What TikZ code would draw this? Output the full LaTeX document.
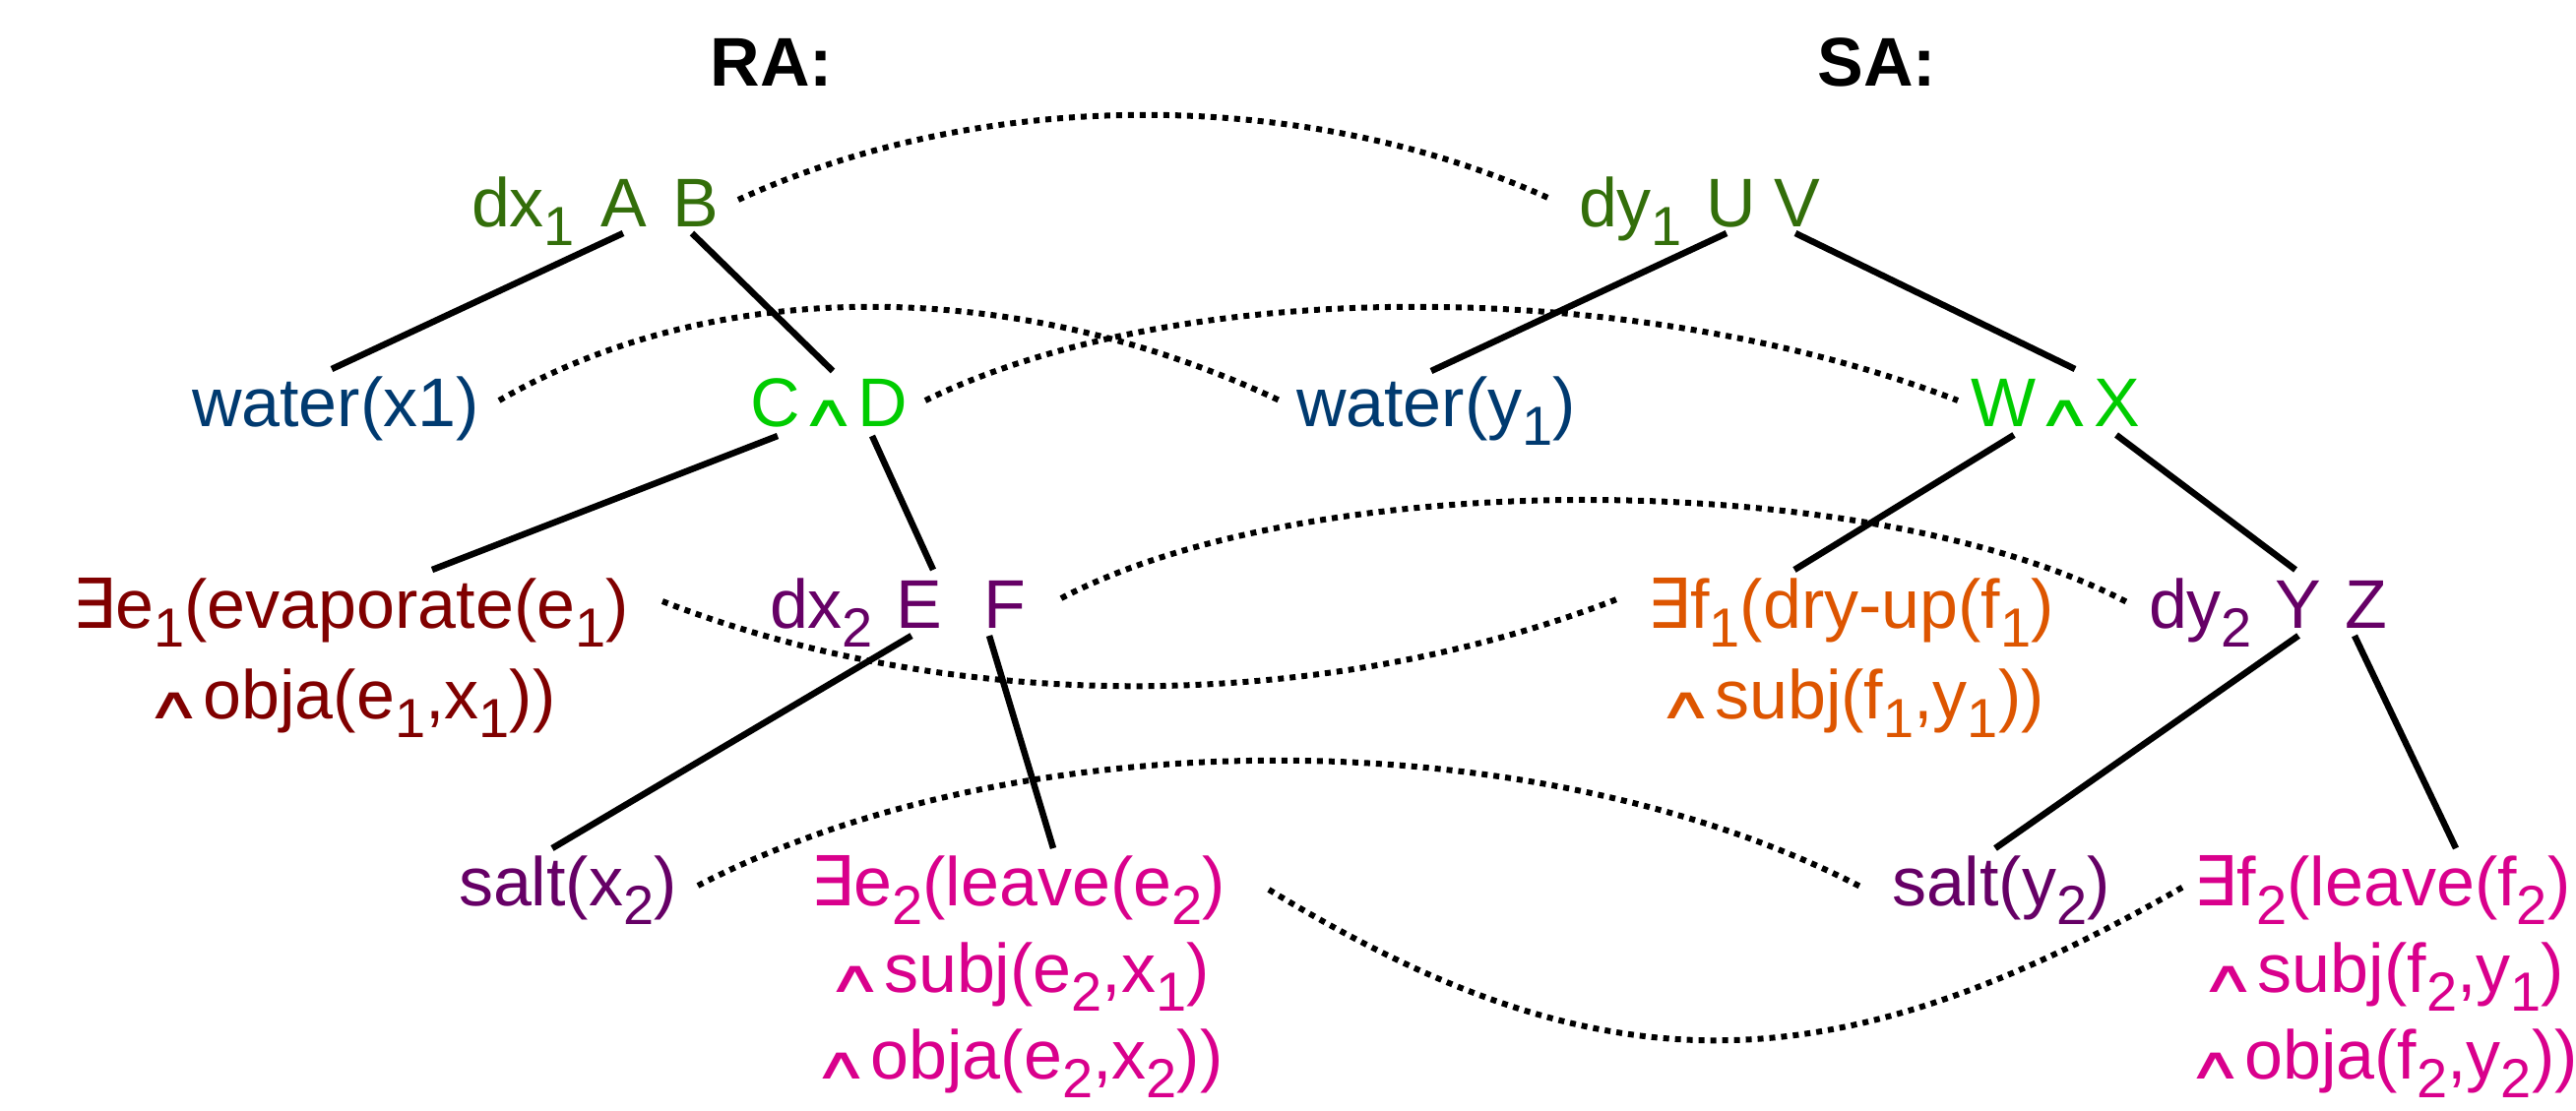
\documentclass[tikz,border=0pt]{standalone}
\usepackage{fontspec}
\usepackage{graphicx}
\setmainfont{Liberation Sans}
\newfontfamily\djvfont{DejaVu Sans}
\definecolor{cgreen}{RGB}{51,110,10}
\definecolor{cblue}{RGB}{0,58,112}
\definecolor{clime}{RGB}{0,204,0}
\definecolor{cred}{RGB}{128,0,0}
\definecolor{cpurple}{RGB}{102,0,102}
\definecolor{cmag}{RGB}{217,0,140}
\definecolor{corange}{RGB}{221,85,0}
\newcommand\sbs[1]{\raisebox{-19pt}{\fontsize{56}{56}\selectfont #1}}
\newcommand\exi{{\djvfont ∃}}
\newcommand\wedgeand{\scalebox{1.15}[0.65]{\djvfont ∧}}
\tikzset{
  lbl/.style={inner sep=0pt, outer sep=0pt, anchor=base west, font=\fontsize{70}{92}\selectfont},
  mlbl/.style={lbl, anchor=base, align=center},
  mlblt/.style={mlbl, font=\fontsize{70}{88}\selectfont},
  ttl/.style={inner sep=0pt, outer sep=0pt, anchor=base, font=\fontsize{70}{84}\selectfont\bfseries},
  tree/.style={line width=6.5pt, black},
  link/.style={line width=6pt, black, dash pattern=on 6pt off 6pt}
}
\begin{document}
\begin{tikzpicture}[x=1pt,y=-1pt]
\fill[white] (0,0) rectangle (2617,1128);
\useasboundingbox (0,0) rectangle (2617,1128);
% titles
\node[ttl] (ra) at (784,87) {RA:};
\node[ttl] (sa) at (1907,87) {SA:};
% level 1
\node[lbl, text=cgreen] (dx1) at (479,230) {dx\sbs{1}};
\node[lbl, text=cgreen] (A) at (610,230) {A};
\node[lbl, text=cgreen] (B) at (683,230) {B};
\node[lbl, text=cgreen] (dy1) at (1604,230) {dy\sbs{1}};
\node[lbl, text=cgreen] (U) at (1733,230) {U};
\node[lbl, text=cgreen] (V) at (1802,230) {V};
% level 2
\node[lbl, text=cblue] (wx1) at (195,433) {water(x1)};
\node[lbl, text=clime] (cd) at (762,433) {C\wedgeand D};
\node[lbl, text=cblue] (wy1) at (1317,433) {water(y\sbs{1})};
\node[lbl, text=clime] (wx) at (2002,433) {W\wedgeand X};
% level 3 (multi-line nodes: base = baseline of last line)
\node[mlbl, text=cred] (e1) at (356,730) {\exi e\sbs{1}(evaporate(e\sbs{1})\\\wedgeand obja(e\sbs{1},x\sbs{1}))};
\node[lbl, text=cpurple] (dx2) at (782,638) {dx\sbs{2}};
\node[lbl, text=cpurple] (E) at (910,638) {E};
\node[lbl, text=cpurple] (F) at (999,638) {F};
\node[mlbl, text=corange] (f1) at (1880,730) {\exi f\sbs{1}(dry-up(f\sbs{1})\\\wedgeand subj(f\sbs{1},y\sbs{1}))};
\node[lbl, text=cpurple] (dy2) at (2183,638) {dy\sbs{2}};
\node[lbl, text=cpurple] (Y) at (2311,638) {Y};
\node[lbl, text=cpurple] (Z) at (2382,638) {Z};
% level 4
\node[lbl, text=cpurple] (sx2) at (466,920) {salt(x\sbs{2})};
\node[mlblt, text=cmag] (e2) at (1034,1096) {\exi e\sbs{2}(leave(e\sbs{2})\\\wedgeand subj(e\sbs{2},x\sbs{1})\\\wedgeand obja(e\sbs{2},x\sbs{2}))};
\node[lbl, text=cpurple] (sy2) at (1922,920) {salt(y\sbs{2})};
\node[mlblt, text=cmag] (f2) at (2420,1096) {\exi f\sbs{2}(leave(f\sbs{2})\\\wedgeand subj(f\sbs{2},y\sbs{1})\\\wedgeand obja(f\sbs{2},y\sbs{2}))};
% tree edges
\draw[tree] ([shift={(23,7)}]A.base west) -- ([shift={(142,-58)}]wx1.base west);
\draw[tree] ([shift={(20,7)}]B.base west) -- ([shift={(84,-56)}]cd.base west);
\draw[tree] ([shift={(21,7)}]U.base west) -- ([shift={(137,-56)}]wy1.base west);
\draw[tree] ([shift={(22,7)}]V.base west) -- ([shift={(106,-58)}]wx.base west);
\draw[tree] ([shift={(28,10)}]cd.base west) -- ([shift={(83,-151)}]e1.base);
\draw[tree] ([shift={(124,10)}]cd.base west) -- ([shift={(38,-59)}]E.base west);
\draw[tree] ([shift={(44,9)}]wx.base west) -- ([shift={(-57,-151)}]f1.base);
\draw[tree] ([shift={(148,9)}]wx.base west) -- ([shift={(21,-59)}]Y.base west);
\draw[tree] ([shift={(16,8)}]E.base west) -- ([shift={(95,-58)}]sx2.base west);
\draw[tree] ([shift={(6,8)}]F.base west) -- ([shift={(36,-234)}]e2.base);
\draw[tree] ([shift={(24,8)}]Y.base west) -- ([shift={(105,-58)}]sy2.base west);
\draw[tree] ([shift={(10,8)}]Z.base west) -- ([shift={(75,-234)}]f2.base);
% correspondence links
\draw[link] ([shift={(67,-27)}]B.base west) .. controls +(250,-115) and +(-250,-115) .. ([shift={(-27,-27)}]dy1.base west);
\draw[link] ([shift={(312,-26)}]wx1.base west) .. controls +(220,-127) and +(-270,-127) .. ([shift={(-17,-26)}]wy1.base west);
\draw[link] ([shift={(178,-26)}]cd.base west) .. controls +(260,-127) and +(-330,-127) .. ([shift={(-13,-26)}]wx.base west);
\draw[link] ([shift={(317,-119)}]e1.base) .. controls +(300,117) and +(-300,117) .. ([shift={(-235,-122)}]f1.base);
\draw[link] ([shift={(79,-30)}]F.base west) .. controls +(260,-136) and +(-260,-136) .. ([shift={(-22,-26)}]dy2.base west);
\draw[link] ([shift={(243,-20)}]sx2.base west) .. controls +(330,-171) and +(-330,-171) .. ([shift={(-30,-18)}]sy2.base west);
\draw[link] ([shift={(255,-192)}]e2.base) .. controls +(340,207) and +(-360,207) .. ([shift={(-200,-196)}]f2.base);
\end{tikzpicture}
\end{document}
